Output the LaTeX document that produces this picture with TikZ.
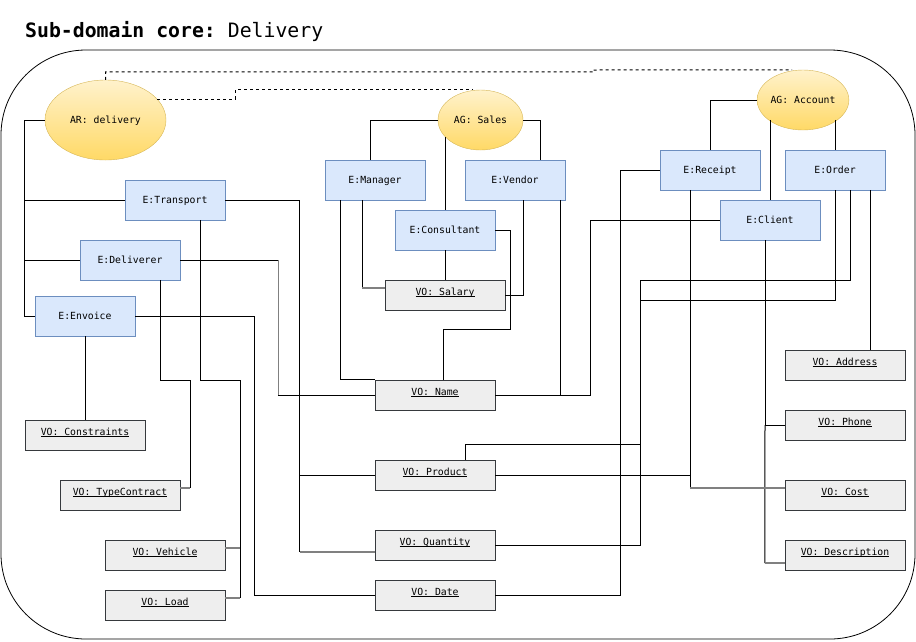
\documentclass[tikz,border=0pt]{standalone}
\usepackage{fontspec}
\setmonofont{DejaVu Sans Mono}
\usetikzlibrary{shapes.geometric}
\definecolor{EntFill}{HTML}{DAE8FC}
\definecolor{EntLine}{HTML}{6C8EBF}
\definecolor{VoFill}{HTML}{EEEEEE}
\definecolor{VoLine}{HTML}{36393D}
\definecolor{AggTop}{HTML}{FFF2CC}
\definecolor{AggBot}{HTML}{FFD966}
\definecolor{AggLine}{HTML}{D6B656}
\newcommand{\vot}[1]{\underline{\smash{#1}}}

\begin{document}
\begin{tikzpicture}[x=1pt, y=-1pt,
            box/.style={inner sep=0pt, text height=7.5pt, text depth=1pt,
                        font=\ttfamily\fontsize{9.8}{12}\selectfont},
            ent/.style={box, draw=EntLine, fill=EntFill, minimum width=100pt, minimum height=40pt},
            vo/.style={box, draw=VoLine, fill=VoFill, minimum width=120pt, minimum height=30pt,
                       text height=8pt, text depth=8pt},
            agg/.style={box, ellipse, draw=AggLine, top color=AggTop, bottom color=AggBot},
            link/.style={draw=black, line width=1pt},
            linkg/.style={draw=black!50, line width=1.3pt},
            agglink/.style={link, dashed}]
            \useasboundingbox (0,0) rectangle (916,641);

            % titulo e moldura do subdominio
            \node[anchor=base west, inner sep=0pt, font=\ttfamily\fontsize{19.8}{24}\selectfont]
                (titulo) at (25,37) {\textbf{Sub-domain core:} Delivery};
            \draw[line width=0.8pt, rounded corners=85pt] (1,50) rectangle (915,639);

            % agregados
            \node[agg, minimum width=121pt, minimum height=80pt] (ar) at (105.5,120) {AR: delivery};
            \node[agg, minimum width=85pt, minimum height=60pt] (sales) at (480.5,120) {AG: Sales};
            \node[agg, minimum width=86pt, minimum height=60pt] (acc) at (803,100) {AG: Account};

            % entidades
            \node[ent] (tra) at (175,200) {E:Transport};
            \node[ent] (del) at (130,260) {E:Deliverer};
            \node[ent] (env) at (85,316)  {E:Envoice};
            \node[ent] (man) at (375,180) {E:Manager};
            \node[ent] (ven) at (515,180) {E:Vendor};
            \node[ent] (con) at (445,230) {E:Consultant};
            \node[ent] (rec) at (710,170) {E:Receipt};
            \node[ent] (ord) at (835,170) {E:Order};
            \node[ent] (cli) at (770,220) {E:Client};

            % objetos de valor
            \node[vo] (sal) at (445,295) {\vot{VO: Salary}};
            \node[vo] (nam) at (435,395) {\vot{VO: Name}};
            \node[vo] (pro) at (435,475) {\vot{VO: Product}};
            \node[vo] (qua) at (435,545) {\vot{VO: Quantity}};
            \node[vo] (dat) at (435,595) {\vot{VO: Date}};
            \node[vo] (cst) at (85,435)  {\vot{VO: Constraints}};
            \node[vo] (typ) at (120,495) {\vot{VO: TypeContract}};
            \node[vo] (veh) at (165,555) {\vot{VO: Vehicle}};
            \node[vo] (loa) at (165,605) {\vot{VO: Load}};
            \node[vo] (adr) at (845,365) {\vot{VO: Address}};
            \node[vo] (pho) at (845,425) {\vot{VO: Phone}};
            \node[vo] (cos) at (845,495) {\vot{VO: Cost}};
            \node[vo] (des) at (845,555) {\vot{VO: Description}};

            % ligacoes entre agregados
            \draw[agglink] (ar.north) -- ++(0,-8) -| (593,70) -- ([xshift=-11]acc.north);
            \draw[agglink] (ar.22) -- ++(78,0) |- ([xshift=-7.5]sales.north);

            % AR: delivery
            \draw[link] (ar.west) -- ++(-20,0) coordinate (jar) |- (tra.west);
            \draw[link] (jar) |- (del.west);
            \draw[link] (jar) |- (env.west);

            % E:Transport
            \draw[link] ([xshift=25]tra.south) -- ++(0,160) -| ([xshift=15,yshift=7]veh.east) coordinate (jveh);
            \draw[linkg] (jveh) -- ([yshift=7]veh.east);
            \draw[link] (jveh) -- ([xshift=15,yshift=7]loa.east) coordinate (jloa);
            \draw[linkg] (jloa) -- ([yshift=7]loa.east);
            \draw[link] (tra.east) -| ([xshift=-75]pro.west) coordinate (jpro) -- (pro.west);
            \draw[link] (jpro) -- ([xshift=-75,yshift=-7]qua.west) coordinate (jqua);
            \draw[linkg] (jqua) -- ([yshift=-7]qua.west);

            % E:Deliverer
            \draw[link] (del.east) -- ++(98,0) coordinate (jdel);
            \draw[linkg] (jdel) -- (jdel |- nam.west);
            \draw[link] (jdel |- nam.west) -- (nam.west);
            \draw[link] ([xshift=30]del.south) -- ++(0,100) -| ([xshift=10,yshift=7]typ.east) coordinate (jtyp);
            \draw[linkg] (jtyp) -- ([yshift=7]typ.east);

            % E:Envoice
            \draw[link] (env.south) -- (cst.north);
            \draw[link] (env.east) -| ([xshift=-120]dat.west) -- (dat.west);

            % AG: Sales
            \draw[link] (sales.west) -| ([xshift=-5]man.north);
            \draw[link] (sales.east) -| ([xshift=25]ven.north);
            \draw[link] (con.north |- sales.206) -- (con.north);
            \draw[link] (con.south) -- (sal.north);
            \draw[link] ([xshift=-35]man.south) |- (nam.north west);
            \draw[link] ([xshift=-13]man.south) |- ([xshift=-23,yshift=7]sal.west) coordinate (jsal);
            \draw[linkg] (jsal) -- ([yshift=7]sal.west);
            \draw[link] ([xshift=8]ven.south) |- (sal.east);
            \draw[link] ([xshift=45]ven.south) |- (nam.east);
            \draw[link] (con.east) -| ([xshift=75,yshift=50]nam.north) -| ([xshift=8]nam.north);

            % AG: Account
            \draw[link] (acc.west) -| (rec.north);
            \draw[link] (cli.north |- acc.210) -- (cli.north);
            \draw[link] (ord.north |- acc.330) -- (ord.north);
            \draw[link] (cli.west) -| ([xshift=95]nam.east) -- (nam.east);
            \draw[link] ([xshift=-5]cli.south) |- (pho.west);
            \draw[link] ([xshift=-5]cli.south |- pho.west) -- ([xshift=-20,yshift=-8]des.west) coordinate (jdes);
            \draw[linkg] (jdes) -- ([yshift=-8]des.west);
            \draw[link] (rec.west) -| ([xshift=125]dat.east) -- (dat.east);
            \draw[link] ([xshift=-20]rec.south) |- ([xshift=-95,yshift=7]cos.west) coordinate (jcos);
            \draw[linkg] (jcos) -- ([yshift=7]cos.west);
            \draw[link] (pro.east) -- (pro.east -| jcos);
            \draw[link] ([xshift=15]ord.south) -- ++(0,90) -- ++(-210,0) |- ([xshift=30,yshift=15]pro.north) -- ([xshift=30]pro.north);
            \draw[link] (ord.south) -- ++(0,110) -| ([xshift=145]qua.east) -- (qua.east);
            \draw[link] ([xshift=35]ord.south) -- ([xshift=25]adr.north);
        \end{tikzpicture}
\end{document}
